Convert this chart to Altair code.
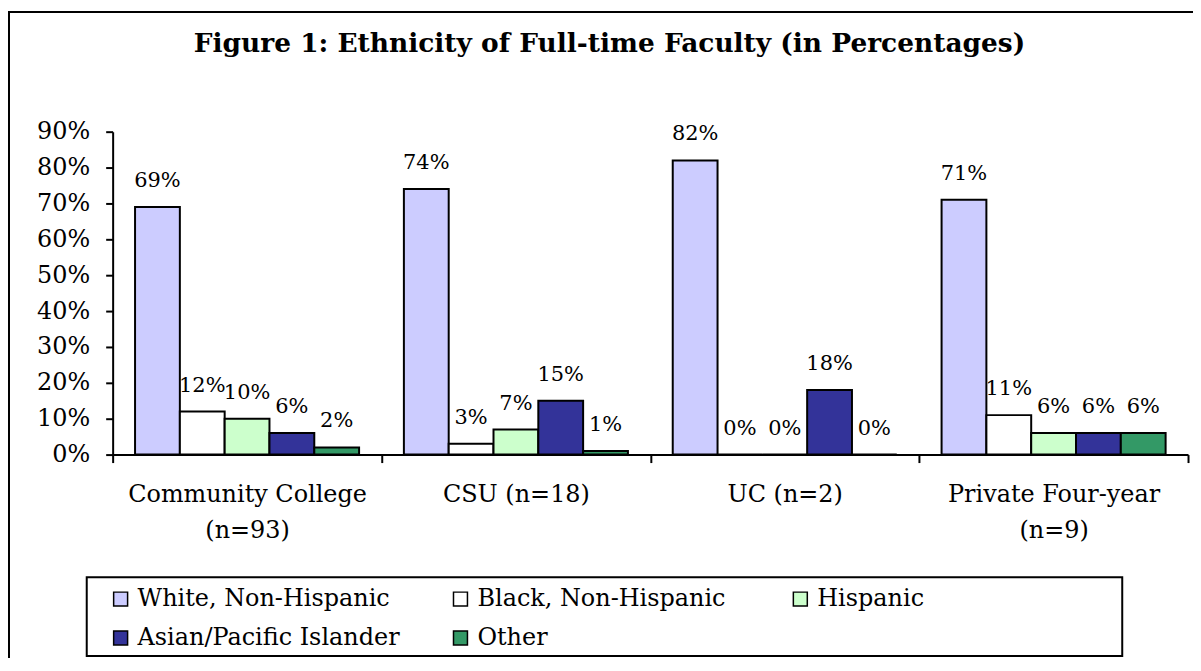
import altair as alt
import pandas as pd

categories = ["Community College|(n=93)", "CSU (n=18)", "UC (n=2)", "Private Four-year|(n=9)"]
ethnicities = ["White, Non-Hispanic", "Black, Non-Hispanic", "Hispanic",
               "Asian/Pacific Islander", "Other"]
colors = ["#CCCCFF", "#FFFFFF", "#CCFFCC", "#333399", "#339966"]
white = [69, 74, 82, 71]
black = [12, 3, 0, 11]
hispanic = [10, 7, 0, 6]
asian = [6, 15, 18, 6]
other = [2, 1, 0, 6]
y_ticks = [0, 10, 20, 30, 40, 50, 60, 70, 80, 90]
title_text = "Figure 1: Ethnicity of Full-time Faculty (in Percentages)"

series = [white, black, hispanic, asian, other]
rows = []
for i, c in enumerate(categories):
    for e, s in zip(ethnicities, series):
        rows.append({"group": c, "eth": e, "pct": s[i] / 100, "label": f"{s[i]}%"})
df = pd.DataFrame(rows)

FONT = "DejaVu Serif"

x = alt.X("group:N", sort=categories,
          scale=alt.Scale(paddingInner=0, paddingOuter=0),
          axis=alt.Axis(title=None, tickBand="extent", labelAngle=0,
                        labelExpr="split(datum.label, '|')",
                        labelFont=FONT, labelFontSize=24, labelLineHeight=36,
                        labelPadding=20, labelLimit=400, labelOverlap=False,
                        labelColor="black", tickSize=8, tickWidth=2,
                        tickColor="black", domainColor="black", domainWidth=2))
xo = alt.XOffset("eth:N", sort=ethnicities,
                 scale=alt.Scale(paddingInner=0, paddingOuter=0.5))
y = alt.Y("pct:Q", scale=alt.Scale(domain=[0, 0.9], nice=False, zero=True),
          axis=alt.Axis(title=None, values=[t / 100 for t in y_ticks], format=".0%",
                        grid=False, labelFont=FONT, labelFontSize=24,
                        labelColor="black", labelPadding=16, tickSize=7,
                        tickWidth=2, tickColor="black", domainColor="black",
                        domainWidth=2))

one = pd.DataFrame({"k": [0]})
outer = alt.Chart(one).mark_rect(fillOpacity=0, stroke="black", strokeWidth=2).encode(
    x=alt.value(-104), x2=alt.value(1200), y=alt.value(-120), y2=alt.value(700))
legbox = alt.Chart(one).mark_rect(fill="white", stroke="black", strokeWidth=2).encode(
    x=alt.value(-26), x2=alt.value(1013), y=alt.value(447), y2=alt.value(526))

bars = alt.Chart(df).mark_bar(stroke="black", strokeWidth=2).encode(
    x=x, xOffset=xo, y=y,
    fill=alt.Fill("eth:N", sort=ethnicities,
                  scale=alt.Scale(domain=ethnicities, range=colors),
                  legend=alt.Legend(title=None, orient="none", legendX=-4, legendY=457,
                                    direction="horizontal", columns=3,
                                    gridAlign="all", columnPadding=48,
                                    rowPadding=15, symbolType="square",
                                    symbolSize=196, symbolStrokeColor="black",
                                    symbolStrokeWidth=1.5, labelFont=FONT,
                                    labelFontSize=24, labelColor="black",
                                    labelOffset=5, labelLimit=400, padding=0)))

labels = alt.Chart(df).mark_text(font=FONT, fontSize=21, dy=-26, baseline="middle",
                                 color="black").encode(
    x=x, xOffset=xo, y=y, text="label:N")

chart = alt.layer(outer, legbox, bars, labels).properties(
    width=1079, height=324,
    title=alt.TitleParams(title_text, font=FONT, fontSize=26.5, fontWeight="bold",
                          color="black", anchor="middle", frame="group", dx=-41,
                          offset=-47),
    autosize=alt.AutoSizeParams(type="none"),
    padding={"left": 105, "top": 123, "right": 5, "bottom": 203},
    background="white",
).configure_view(stroke=None)

chart.save("out.html", embed_options={"renderer": "svg", "actions": False})
